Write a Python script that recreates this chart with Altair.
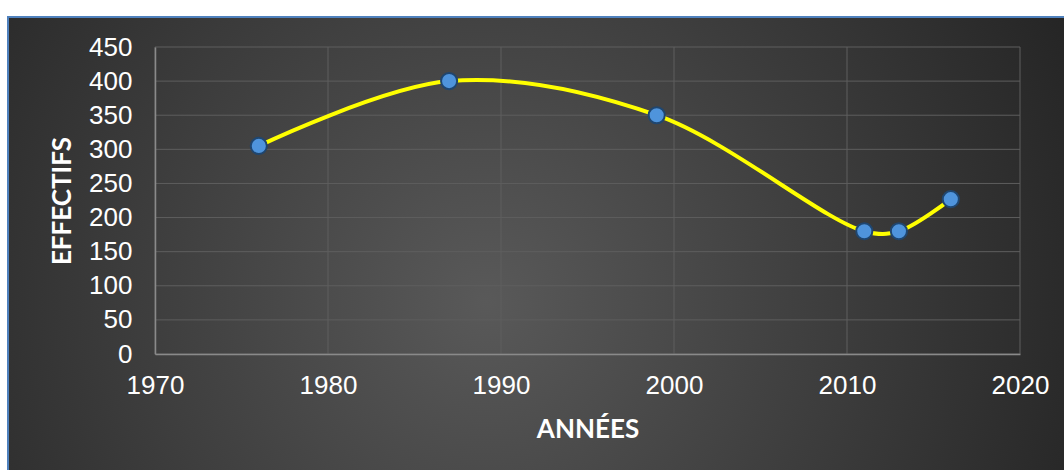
import altair as alt
import pandas as pd

years = [1976, 1987, 1999, 2011, 2013, 2016]
effectifs = [305, 400, 350, 180, 180, 227]
x_ticks = [1970, 1980, 1990, 2000, 2010, 2020]
y_ticks = [0, 50, 100, 150, 200, 250, 300, 350, 400, 450]

df = pd.DataFrame({"annee": years, "effectif": effectifs})
bg = pd.DataFrame({"k": [0]})
xt = pd.DataFrame({"annee": x_ticks})
yt = pd.DataFrame({"effectif": y_ticks})

W, H = 865, 307
PL, PT = 155, 47

background = alt.Chart(bg).mark_rect(
    clip=False,
    fill={
        "gradient": "radial",
        "x1": 0.45, "y1": 0.55, "r1": 0,
        "x2": 0.45, "y2": 0.55, "r2": 0.62,
        "stops": [
            {"offset": 0, "color": "#595959"},
            {"offset": 1, "color": "#242424"},
        ],
    },
    stroke="#4f81bd",
    strokeWidth=2,
).encode(
    x=alt.value(8 - PL),
    x2=alt.value(1070 - PL),
    y=alt.value(17 - PT),
    y2=alt.value(480 - PT),
)

xscale = alt.Scale(domain=[1970, 2020], nice=False, zero=False)
yscale = alt.Scale(domain=[0, 450], nice=False)

xaxis = alt.Axis(
    values=x_ticks,
    format="d",
    title="ANNÉES",
    titleFont="Lato",
    titleFontWeight="bold",
    titleFontSize=26,
    titleColor="#ffffff",
    titleY=75,
    titleBaseline="middle",
    labelFont="Liberation Sans",
    labelFontSize=26,
    labelColor="#ffffff",
    labelPadding=18,
    labelFlush=False,
    labelOverlap=False,
    ticks=False,
    grid=False,
    domainColor="#8a8a8a",
    domainWidth=1.5,
    zindex=1,
)
yaxis = alt.Axis(
    values=y_ticks,
    title="EFFECTIFS",
    titleFont="Lato",
    titleFontWeight="bold",
    titleFontSize=26,
    titleColor="#ffffff",
    titleX=-93,
    titleY=H / 2,
    titleAngle=-90,
    titleBaseline="middle",
    labelFont="Liberation Sans",
    labelFontSize=26,
    labelColor="#ffffff",
    labelPadding=23,
    labelFlush=False,
    labelOverlap=False,
    ticks=False,
    grid=False,
    domainColor="#8a8a8a",
    domainWidth=1.5,
    zindex=1,
)

vgrid = alt.Chart(xt).mark_rule(color="#5e5e5e", strokeWidth=1).encode(
    x=alt.X("annee:Q", scale=xscale, axis=xaxis)
)
hgrid = alt.Chart(yt).mark_rule(color="#5e5e5e", strokeWidth=1).encode(
    y=alt.Y("effectif:Q", scale=yscale, axis=yaxis)
)

base = alt.Chart(df).encode(
    x=alt.X("annee:Q", scale=xscale, axis=xaxis),
    y=alt.Y("effectif:Q", scale=yscale, axis=yaxis),
)

line = base.mark_line(color="#ffff00", strokeWidth=4, interpolate="catmull-rom")
points = base.mark_point(
    filled=True, shape="circle", size=260, fill="#4f94dc", stroke="#1f4670",
    strokeWidth=2, opacity=1,
)

chart = alt.layer(background, vgrid, hgrid, line, points).properties(
    width=W,
    height=H,
    background="#ffffff",
    padding={"left": PL, "top": PT, "right": 1064 - PL - W, "bottom": 470 - PT - H},
    autosize=alt.AutoSizeParams(type="none"),
).configure_view(stroke=None)

chart.save("out.html", embed_options={"renderer": "svg", "actions": False})
